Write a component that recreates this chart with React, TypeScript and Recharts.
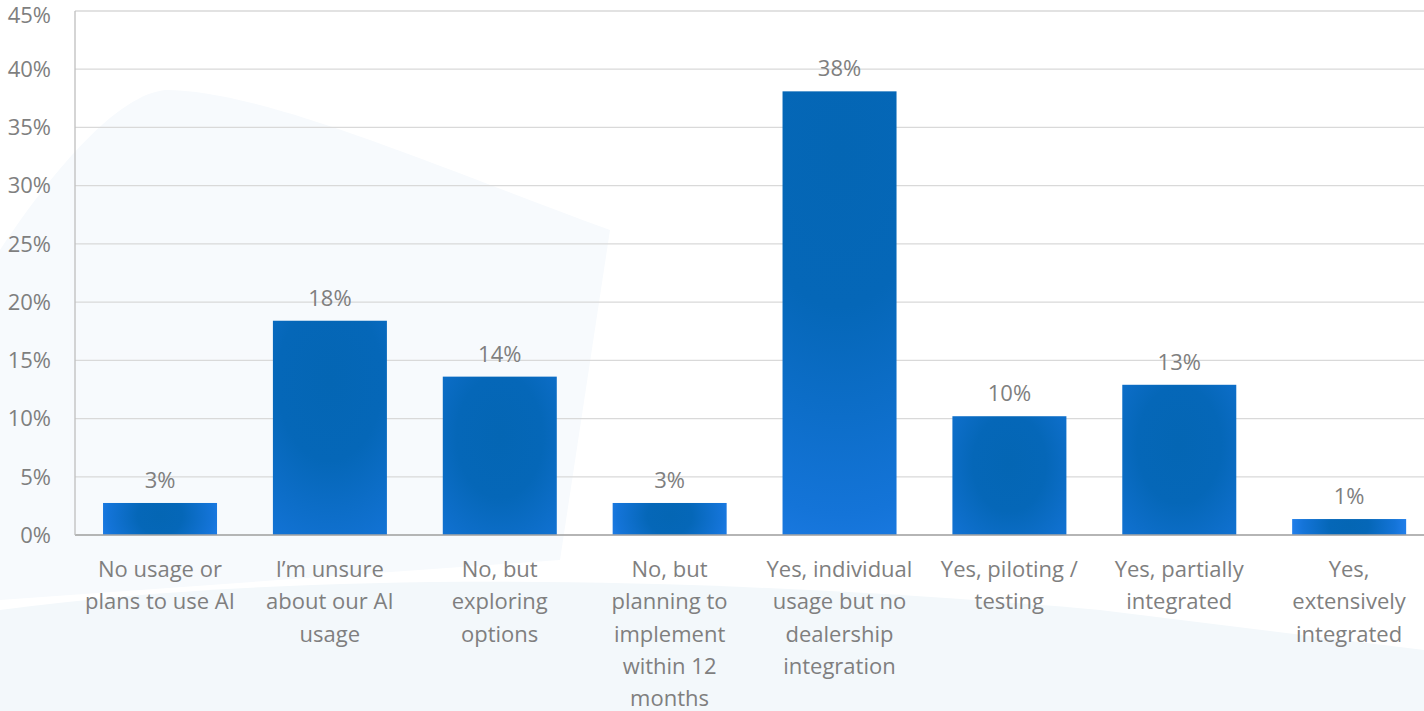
import { BarChart, Bar, XAxis, YAxis, CartesianGrid, LabelList } from 'recharts';

const categories = [
  'No usage or|plans to use AI',
  'I’m unsure|about our AI|usage',
  'No, but|exploring|options',
  'No, but|planning to|implement|within 12|months',
  'Yes, individual|usage but no|dealership|integration',
  'Yes, piloting /|testing',
  'Yes, partially|integrated',
  'Yes,|extensively|integrated',
];
const shares = [2.75, 18.4, 13.6, 2.75, 38.1, 10.2, 12.9, 1.37];
const yTicks = [0, 5, 10, 15, 20, 25, 30, 35, 40, 45];

const data = categories.map((c, i) => ({ name: c, value: shares[i] }));

const FONT = '"Open Sans", sans-serif';
const GREY = '#7f7f7f';

// bar with an Excel-like "from center" gradient
const GradBar = (props: any) => {
  const { x, y, width, height, index } = props;
  if (!height || height <= 0) return null;
  const id = `barGrad${index}`;
  const rx = width / 2 + height * 0.55;
  const ry = height * 1.1 + 30;
  const cx = x + width / 2;
  const cy = y + Math.min(height * 0.4, 60);
  return (
    <g>
      <defs>
        <radialGradient
          id={id}
          gradientUnits="userSpaceOnUse"
          cx={cx}
          cy={cy}
          r={rx}
          gradientTransform={`translate(${cx} ${cy}) scale(1 ${ry / rx}) translate(${-cx} ${-cy})`}
        >
          <stop offset="0" stopColor="#0466b4" />
          <stop offset="0.3" stopColor="#0567b8" />
          <stop offset="0.7" stopColor="#1474d8" />
          <stop offset="1" stopColor="#2a86f8" />
        </radialGradient>
      </defs>
      <rect x={x} y={y} width={width} height={height} fill={`url(#${id})`} />
    </g>
  );
};

const CatTick = (props: any) => {
  const { x, y, payload } = props;
  const lines = String(payload.value).split('|');
  return (
    <text x={x} y={y + 34} textAnchor="middle" fill={GREY} fontSize={22} fontFamily={FONT}>
      {lines.map((l, i) => (
        <tspan key={i} x={x} dy={i === 0 ? 0 : 32.3}>
          {l}
        </tspan>
      ))}
    </text>
  );
};

export default function App() {
  return (
    <div style={{ position: 'absolute', left: 0, top: 0, width: 1424, height: 711, overflow: 'hidden', background: '#fff' }}>
      {/* faint backdrop swooshes */}
      <svg width={1424} height={711} style={{ position: 'absolute', left: 0, top: 0 }}>
        <path d="M0,250 C60,160 120,95 165,90 C260,90 420,160 610,230 L560,560 L0,600 Z" fill="#f7fafd" />
        <path d="M0,610 C300,570 700,575 1100,610 L1424,650 L1424,711 L0,711 Z" fill="#f3f8fb" />
      </svg>
      <div style={{ position: 'absolute', left: 0, top: 0 }}>
        <BarChart
          width={1444}
          height={711}
          data={data}
          margin={{ top: 11, right: 10, bottom: 0, left: 0 }}
          barCategoryGap="16.5%"
        >
          <CartesianGrid vertical={false} stroke="#d9d9d9" strokeWidth={1.3} />
          <XAxis
            dataKey="name"
            height={176}
            tick={<CatTick />}
            tickLine={false}
            axisLine={{ stroke: '#a6a6a6', strokeWidth: 1.3 }}
            interval={0}
          />
          <YAxis
            width={75}
            domain={[0, 45]}
            ticks={yTicks}
            tickFormatter={(v) => `${v}%`}
            tickLine={false}
            axisLine={{ stroke: '#bfbfbf', strokeWidth: 1.3 }}
            tick={{ fill: GREY, fontSize: 22, fontFamily: FONT }}
            tickMargin={18}
          />
          <Bar dataKey="value" shape={<GradBar />} isAnimationActive={false}>
            <LabelList
              dataKey="value"
              position="top"
              offset={15}
              formatter={(v: any) => `${Math.round(Number(v))}%`}
              style={{ fill: GREY, fontSize: 22, fontFamily: FONT }}
            />
          </Bar>
        </BarChart>
      </div>
    </div>
  );
}
